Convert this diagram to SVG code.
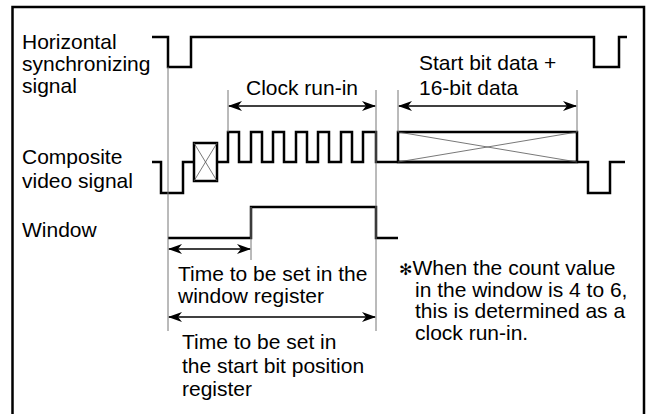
<svg xmlns="http://www.w3.org/2000/svg" width="649" height="414" viewBox="0 0 649 414">
<defs>
<marker id="ah" markerWidth="14" markerHeight="10" refX="13" refY="5" orient="auto-start-reverse" markerUnits="userSpaceOnUse">
<path d="M0,0 L14,5 L0,10 L4,5 Z" fill="#000"/>
</marker>
</defs>
<style>
.t{font-family:"Liberation Sans",Arial,sans-serif;font-size:21px;fill:#000}
.sig{fill:none;stroke:#000;stroke-width:2.5;stroke-linejoin:miter}
.guide{fill:none;stroke:#777;stroke-width:1}
.arr{fill:none;stroke:#000;stroke-width:1.3;marker-start:url(#ah);marker-end:url(#ah)}
.x{fill:none;stroke:#555;stroke-width:0.8}
</style>
<rect x="0" y="0" width="649" height="414" fill="#fff"/>
<path d="M12.5,420 V7 H644 V420" fill="none" stroke="#000" stroke-width="2.5"/>
<g id="labels">
<text class="t" x="22" y="49">Horizontal</text>
<text class="t" x="22" y="71">synchronizing</text>
<text class="t" x="22" y="93">signal</text>
<text class="t" x="22" y="164">Composite</text>
<text class="t" x="22" y="188">video signal</text>
<text class="t" x="22" y="237">Window</text>
</g>
<g id="hsync">
<path class="sig" d="M152,37 H168 V67 H191 V37 H594 V67 H619 V37 H627"/>
</g>
<g id="composite">
<path class="sig" d="M152,162 H161 V193 H183 V162 H194 M217,162 H228 V132 H239 V162 H251 V132 H262 V162 H273 V132 H284 V162 H296 V132 H307 V162 H318 V132 H329 V162 H341 V132 H352 V162 H363 V132 H376 V162 H588 V193 H610 V162 H625"/>
<rect class="sig" x="194" y="143" width="23" height="38"/>
<path class="x" d="M194,143 L217,181 M217,143 L194,181"/>
<rect class="sig" x="398" y="132" width="179" height="30"/>
<path class="x" d="M398,132 L577,162 M577,132 L398,162"/>
</g>
<g id="window">
<path class="sig" d="M168,238 H251 V207 H376 V238 H398"/>
</g>
<g id="connectors">
<path class="guide" d="M168,67 V331 M228,90 V132 M376,90 V331 M398,90 V132 M577,90 V132 M251,207 V260"/>
<line class="arr" x1="229" y1="106" x2="375" y2="106"/>
<line class="arr" x1="399" y1="106" x2="576" y2="106"/>
<line class="arr" x1="169" y1="249" x2="250" y2="249"/>
<line class="arr" x1="169" y1="317" x2="375" y2="317"/>
</g>
<g id="texts">
<text class="t" x="302" y="95" text-anchor="middle">Clock run-in</text>
<text class="t" x="419" y="70">Start bit data +</text>
<text class="t" x="419" y="95">16-bit data</text>
<text class="t" x="178" y="281">Time to be set in the</text>
<text class="t" x="178" y="303">window register</text>
<text class="t" x="182" y="349">Time to be set in</text>
<text class="t" x="182" y="373">the start bit position</text>
<text class="t" x="182" y="396">register</text>
<text class="t" x="399" y="275"><tspan style="font-family:'DejaVu Sans',sans-serif;font-size:16px">✻</tspan>When the count value</text>
<text class="t" x="415" y="297">in the window is 4 to 6,</text>
<text class="t" x="415" y="318">this is determined as a</text>
<text class="t" x="415" y="340">clock run-in.</text>
</g>
</svg>
